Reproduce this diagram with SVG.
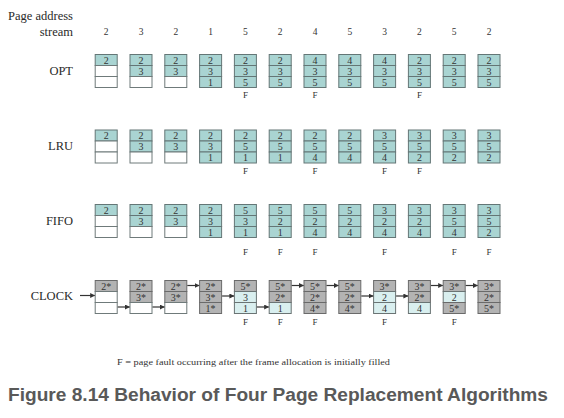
<svg xmlns="http://www.w3.org/2000/svg" width="564" height="418" viewBox="0 0 564 418">
<defs>
<style>
.bg{fill:#ffffff}
.lbl{font-family:"Liberation Serif",serif;font-size:12.5px;fill:#2a2a2a}
.num{font-family:"Liberation Serif",serif;font-size:9.5px;fill:#333;text-anchor:middle}
.d{font-family:"Liberation Serif",serif;font-size:10px;fill:#333;text-anchor:middle}
.f{font-family:"Liberation Serif",serif;font-size:9px;fill:#333;text-anchor:middle}
.t{fill:#a9d4d2;stroke:#647676;stroke-width:1}
.w{fill:#ffffff;stroke:#6f7a7a;stroke-width:1}
.g{fill:#b3b3b3;stroke:#6a6a6a;stroke-width:1}
.l{fill:#d9efef;stroke:#6a7474;stroke-width:1}
.arr{stroke:#333;stroke-width:1.2;fill:none;marker-end:url(#ah)}
.note{font-family:"Liberation Serif",serif;font-size:9px;fill:#333}
.title{font-family:"Liberation Sans",Arial,sans-serif;font-size:18px;font-weight:bold;fill:#595959}
</style>
<marker id="ah" viewBox="0 0 10 10" refX="9" refY="5" markerWidth="5" markerHeight="5" markerUnits="userSpaceOnUse" orient="auto"><path d="M0,0 L10,5 L0,10 z" fill="#333"/></marker>
</defs>
<rect class="bg" x="0" y="0" width="564" height="418"/>

<g id="header">
<text class="lbl" x="73" y="20" text-anchor="end">Page address</text>
<text class="lbl" x="73" y="36" text-anchor="end">stream</text>
<text class="num" x="106.2" y="35">2</text>
<text class="num" x="141" y="35">3</text>
<text class="num" x="175.8" y="35">2</text>
<text class="num" x="210.6" y="35">1</text>
<text class="num" x="245.4" y="35">5</text>
<text class="num" x="280.2" y="35">2</text>
<text class="num" x="315" y="35">4</text>
<text class="num" x="349.8" y="35">5</text>
<text class="num" x="384.6" y="35">3</text>
<text class="num" x="419.4" y="35">2</text>
<text class="num" x="454.2" y="35">5</text>
<text class="num" x="489" y="35">2</text>
</g>

<g id="labels">
<text class="lbl" x="73" y="75" text-anchor="end">OPT</text>
<text class="lbl" x="73" y="149.5" text-anchor="end">LRU</text>
<text class="lbl" x="73" y="224.5" text-anchor="end">FIFO</text>
<text class="lbl" x="73" y="299.5" text-anchor="end">CLOCK</text>
</g>

<!-- OPT row -->
<g id="opt-0" transform="translate(95.2,54.5)"><rect class="t" x="0" y="0" width="22" height="11"/><rect class="w" x="0" y="11" width="22" height="11"/><rect class="w" x="0" y="22" width="22" height="11"/><text class="d" x="11" y="9">2</text></g>
<g id="opt-1" transform="translate(130,54.5)"><rect class="t" x="0" y="0" width="22" height="11"/><rect class="t" x="0" y="11" width="22" height="11"/><rect class="w" x="0" y="22" width="22" height="11"/><text class="d" x="11" y="9">2</text><text class="d" x="11" y="20">3</text></g>
<g id="opt-2" transform="translate(164.8,54.5)"><rect class="t" x="0" y="0" width="22" height="11"/><rect class="t" x="0" y="11" width="22" height="11"/><rect class="w" x="0" y="22" width="22" height="11"/><text class="d" x="11" y="9">2</text><text class="d" x="11" y="20">3</text></g>
<g id="opt-3" transform="translate(199.6,54.5)"><rect class="t" x="0" y="0" width="22" height="11"/><rect class="t" x="0" y="11" width="22" height="11"/><rect class="t" x="0" y="22" width="22" height="11"/><text class="d" x="11" y="9">2</text><text class="d" x="11" y="20">3</text><text class="d" x="11" y="31">1</text></g>
<g id="opt-4" transform="translate(234.4,54.5)"><rect class="t" x="0" y="0" width="22" height="11"/><rect class="t" x="0" y="11" width="22" height="11"/><rect class="t" x="0" y="22" width="22" height="11"/><text class="d" x="11" y="9">2</text><text class="d" x="11" y="20">3</text><text class="d" x="11" y="31">5</text><text class="f" x="11" y="43">F</text></g>
<g id="opt-5" transform="translate(269.2,54.5)"><rect class="t" x="0" y="0" width="22" height="11"/><rect class="t" x="0" y="11" width="22" height="11"/><rect class="t" x="0" y="22" width="22" height="11"/><text class="d" x="11" y="9">2</text><text class="d" x="11" y="20">3</text><text class="d" x="11" y="31">5</text></g>
<g id="opt-6" transform="translate(304,54.5)"><rect class="t" x="0" y="0" width="22" height="11"/><rect class="t" x="0" y="11" width="22" height="11"/><rect class="t" x="0" y="22" width="22" height="11"/><text class="d" x="11" y="9">4</text><text class="d" x="11" y="20">3</text><text class="d" x="11" y="31">5</text><text class="f" x="11" y="43">F</text></g>
<g id="opt-7" transform="translate(338.8,54.5)"><rect class="t" x="0" y="0" width="22" height="11"/><rect class="t" x="0" y="11" width="22" height="11"/><rect class="t" x="0" y="22" width="22" height="11"/><text class="d" x="11" y="9">4</text><text class="d" x="11" y="20">3</text><text class="d" x="11" y="31">5</text></g>
<g id="opt-8" transform="translate(373.6,54.5)"><rect class="t" x="0" y="0" width="22" height="11"/><rect class="t" x="0" y="11" width="22" height="11"/><rect class="t" x="0" y="22" width="22" height="11"/><text class="d" x="11" y="9">4</text><text class="d" x="11" y="20">3</text><text class="d" x="11" y="31">5</text></g>
<g id="opt-9" transform="translate(408.4,54.5)"><rect class="t" x="0" y="0" width="22" height="11"/><rect class="t" x="0" y="11" width="22" height="11"/><rect class="t" x="0" y="22" width="22" height="11"/><text class="d" x="11" y="9">2</text><text class="d" x="11" y="20">3</text><text class="d" x="11" y="31">5</text><text class="f" x="11" y="43">F</text></g>
<g id="opt-10" transform="translate(443.2,54.5)"><rect class="t" x="0" y="0" width="22" height="11"/><rect class="t" x="0" y="11" width="22" height="11"/><rect class="t" x="0" y="22" width="22" height="11"/><text class="d" x="11" y="9">2</text><text class="d" x="11" y="20">3</text><text class="d" x="11" y="31">5</text></g>
<g id="opt-11" transform="translate(478,54.5)"><rect class="t" x="0" y="0" width="22" height="11"/><rect class="t" x="0" y="11" width="22" height="11"/><rect class="t" x="0" y="22" width="22" height="11"/><text class="d" x="11" y="9">2</text><text class="d" x="11" y="20">3</text><text class="d" x="11" y="31">5</text></g>

<!-- LRU row -->
<g id="lru-0" transform="translate(95.2,130)"><rect class="t" x="0" y="0" width="22" height="11"/><rect class="w" x="0" y="11" width="22" height="11"/><rect class="w" x="0" y="22" width="22" height="11"/><text class="d" x="11" y="9">2</text></g>
<g id="lru-1" transform="translate(130,130)"><rect class="t" x="0" y="0" width="22" height="11"/><rect class="t" x="0" y="11" width="22" height="11"/><rect class="w" x="0" y="22" width="22" height="11"/><text class="d" x="11" y="9">2</text><text class="d" x="11" y="20">3</text></g>
<g id="lru-2" transform="translate(164.8,130)"><rect class="t" x="0" y="0" width="22" height="11"/><rect class="t" x="0" y="11" width="22" height="11"/><rect class="w" x="0" y="22" width="22" height="11"/><text class="d" x="11" y="9">2</text><text class="d" x="11" y="20">3</text></g>
<g id="lru-3" transform="translate(199.6,130)"><rect class="t" x="0" y="0" width="22" height="11"/><rect class="t" x="0" y="11" width="22" height="11"/><rect class="t" x="0" y="22" width="22" height="11"/><text class="d" x="11" y="9">2</text><text class="d" x="11" y="20">3</text><text class="d" x="11" y="31">1</text></g>
<g id="lru-4" transform="translate(234.4,130)"><rect class="t" x="0" y="0" width="22" height="11"/><rect class="t" x="0" y="11" width="22" height="11"/><rect class="t" x="0" y="22" width="22" height="11"/><text class="d" x="11" y="9">2</text><text class="d" x="11" y="20">5</text><text class="d" x="11" y="31">1</text><text class="f" x="11" y="44">F</text></g>
<g id="lru-5" transform="translate(269.2,130)"><rect class="t" x="0" y="0" width="22" height="11"/><rect class="t" x="0" y="11" width="22" height="11"/><rect class="t" x="0" y="22" width="22" height="11"/><text class="d" x="11" y="9">2</text><text class="d" x="11" y="20">5</text><text class="d" x="11" y="31">1</text></g>
<g id="lru-6" transform="translate(304,130)"><rect class="t" x="0" y="0" width="22" height="11"/><rect class="t" x="0" y="11" width="22" height="11"/><rect class="t" x="0" y="22" width="22" height="11"/><text class="d" x="11" y="9">2</text><text class="d" x="11" y="20">5</text><text class="d" x="11" y="31">4</text><text class="f" x="11" y="44">F</text></g>
<g id="lru-7" transform="translate(338.8,130)"><rect class="t" x="0" y="0" width="22" height="11"/><rect class="t" x="0" y="11" width="22" height="11"/><rect class="t" x="0" y="22" width="22" height="11"/><text class="d" x="11" y="9">2</text><text class="d" x="11" y="20">5</text><text class="d" x="11" y="31">4</text></g>
<g id="lru-8" transform="translate(373.6,130)"><rect class="t" x="0" y="0" width="22" height="11"/><rect class="t" x="0" y="11" width="22" height="11"/><rect class="t" x="0" y="22" width="22" height="11"/><text class="d" x="11" y="9">3</text><text class="d" x="11" y="20">5</text><text class="d" x="11" y="31">4</text><text class="f" x="11" y="44">F</text></g>
<g id="lru-9" transform="translate(408.4,130)"><rect class="t" x="0" y="0" width="22" height="11"/><rect class="t" x="0" y="11" width="22" height="11"/><rect class="t" x="0" y="22" width="22" height="11"/><text class="d" x="11" y="9">3</text><text class="d" x="11" y="20">5</text><text class="d" x="11" y="31">2</text><text class="f" x="11" y="44">F</text></g>
<g id="lru-10" transform="translate(443.2,130)"><rect class="t" x="0" y="0" width="22" height="11"/><rect class="t" x="0" y="11" width="22" height="11"/><rect class="t" x="0" y="22" width="22" height="11"/><text class="d" x="11" y="9">3</text><text class="d" x="11" y="20">5</text><text class="d" x="11" y="31">2</text></g>
<g id="lru-11" transform="translate(478,130)"><rect class="t" x="0" y="0" width="22" height="11"/><rect class="t" x="0" y="11" width="22" height="11"/><rect class="t" x="0" y="22" width="22" height="11"/><text class="d" x="11" y="9">3</text><text class="d" x="11" y="20">5</text><text class="d" x="11" y="31">2</text></g>

<!-- FIFO row -->
<g id="fifo-0" transform="translate(95.2,204.5)"><rect class="t" x="0" y="0" width="22" height="11"/><rect class="w" x="0" y="11" width="22" height="11"/><rect class="w" x="0" y="22" width="22" height="11"/><text class="d" x="11" y="9">2</text></g>
<g id="fifo-1" transform="translate(130,204.5)"><rect class="t" x="0" y="0" width="22" height="11"/><rect class="t" x="0" y="11" width="22" height="11"/><rect class="w" x="0" y="22" width="22" height="11"/><text class="d" x="11" y="9">2</text><text class="d" x="11" y="20">3</text></g>
<g id="fifo-2" transform="translate(164.8,204.5)"><rect class="t" x="0" y="0" width="22" height="11"/><rect class="t" x="0" y="11" width="22" height="11"/><rect class="w" x="0" y="22" width="22" height="11"/><text class="d" x="11" y="9">2</text><text class="d" x="11" y="20">3</text></g>
<g id="fifo-3" transform="translate(199.6,204.5)"><rect class="t" x="0" y="0" width="22" height="11"/><rect class="t" x="0" y="11" width="22" height="11"/><rect class="t" x="0" y="22" width="22" height="11"/><text class="d" x="11" y="9">2</text><text class="d" x="11" y="20">3</text><text class="d" x="11" y="31">1</text></g>
<g id="fifo-4" transform="translate(234.4,204.5)"><rect class="t" x="0" y="0" width="22" height="11"/><rect class="t" x="0" y="11" width="22" height="11"/><rect class="t" x="0" y="22" width="22" height="11"/><text class="d" x="11" y="9">5</text><text class="d" x="11" y="20">3</text><text class="d" x="11" y="31">1</text><text class="f" x="11" y="50">F</text></g>
<g id="fifo-5" transform="translate(269.2,204.5)"><rect class="t" x="0" y="0" width="22" height="11"/><rect class="t" x="0" y="11" width="22" height="11"/><rect class="t" x="0" y="22" width="22" height="11"/><text class="d" x="11" y="9">5</text><text class="d" x="11" y="20">2</text><text class="d" x="11" y="31">1</text><text class="f" x="11" y="50">F</text></g>
<g id="fifo-6" transform="translate(304,204.5)"><rect class="t" x="0" y="0" width="22" height="11"/><rect class="t" x="0" y="11" width="22" height="11"/><rect class="t" x="0" y="22" width="22" height="11"/><text class="d" x="11" y="9">5</text><text class="d" x="11" y="20">2</text><text class="d" x="11" y="31">4</text><text class="f" x="11" y="50">F</text></g>
<g id="fifo-7" transform="translate(338.8,204.5)"><rect class="t" x="0" y="0" width="22" height="11"/><rect class="t" x="0" y="11" width="22" height="11"/><rect class="t" x="0" y="22" width="22" height="11"/><text class="d" x="11" y="9">5</text><text class="d" x="11" y="20">2</text><text class="d" x="11" y="31">4</text></g>
<g id="fifo-8" transform="translate(373.6,204.5)"><rect class="t" x="0" y="0" width="22" height="11"/><rect class="t" x="0" y="11" width="22" height="11"/><rect class="t" x="0" y="22" width="22" height="11"/><text class="d" x="11" y="9">3</text><text class="d" x="11" y="20">2</text><text class="d" x="11" y="31">4</text><text class="f" x="11" y="50">F</text></g>
<g id="fifo-9" transform="translate(408.4,204.5)"><rect class="t" x="0" y="0" width="22" height="11"/><rect class="t" x="0" y="11" width="22" height="11"/><rect class="t" x="0" y="22" width="22" height="11"/><text class="d" x="11" y="9">3</text><text class="d" x="11" y="20">2</text><text class="d" x="11" y="31">4</text></g>
<g id="fifo-10" transform="translate(443.2,204.5)"><rect class="t" x="0" y="0" width="22" height="11"/><rect class="t" x="0" y="11" width="22" height="11"/><rect class="t" x="0" y="22" width="22" height="11"/><text class="d" x="11" y="9">3</text><text class="d" x="11" y="20">5</text><text class="d" x="11" y="31">4</text><text class="f" x="11" y="50">F</text></g>
<g id="fifo-11" transform="translate(478,204.5)"><rect class="t" x="0" y="0" width="22" height="11"/><rect class="t" x="0" y="11" width="22" height="11"/><rect class="t" x="0" y="22" width="22" height="11"/><text class="d" x="11" y="9">3</text><text class="d" x="11" y="20">5</text><text class="d" x="11" y="31">2</text><text class="f" x="11" y="50">F</text></g>

<!-- CLOCK row -->
<g id="clock-0" transform="translate(95.2,280.5)"><rect class="g" x="0" y="0" width="22" height="11"/><rect class="w" x="0" y="11" width="22" height="11"/><rect class="w" x="0" y="22" width="22" height="11"/><text class="d" x="11" y="9">2*</text></g>
<g id="clock-1" transform="translate(130,280.5)"><rect class="g" x="0" y="0" width="22" height="11"/><rect class="g" x="0" y="11" width="22" height="11"/><rect class="w" x="0" y="22" width="22" height="11"/><text class="d" x="11" y="9">2*</text><text class="d" x="11" y="20">3*</text></g>
<g id="clock-2" transform="translate(164.8,280.5)"><rect class="g" x="0" y="0" width="22" height="11"/><rect class="g" x="0" y="11" width="22" height="11"/><rect class="w" x="0" y="22" width="22" height="11"/><text class="d" x="11" y="9">2*</text><text class="d" x="11" y="20">3*</text></g>
<g id="clock-3" transform="translate(199.6,280.5)"><rect class="g" x="0" y="0" width="22" height="11"/><rect class="g" x="0" y="11" width="22" height="11"/><rect class="g" x="0" y="22" width="22" height="11"/><text class="d" x="11" y="9">2*</text><text class="d" x="11" y="20">3*</text><text class="d" x="11" y="31">1*</text></g>
<g id="clock-4" transform="translate(234.4,280.5)"><rect class="g" x="0" y="0" width="22" height="11"/><rect class="l" x="0" y="11" width="22" height="11"/><rect class="l" x="0" y="22" width="22" height="11"/><text class="d" x="11" y="9">5*</text><text class="d" x="11" y="20">3</text><text class="d" x="11" y="31">1</text><text class="f" x="11" y="44.5">F</text></g>
<g id="clock-5" transform="translate(269.2,280.5)"><rect class="g" x="0" y="0" width="22" height="11"/><rect class="g" x="0" y="11" width="22" height="11"/><rect class="l" x="0" y="22" width="22" height="11"/><text class="d" x="11" y="9">5*</text><text class="d" x="11" y="20">2*</text><text class="d" x="11" y="31">1</text><text class="f" x="11" y="44.5">F</text></g>
<g id="clock-6" transform="translate(304,280.5)"><rect class="g" x="0" y="0" width="22" height="11"/><rect class="g" x="0" y="11" width="22" height="11"/><rect class="g" x="0" y="22" width="22" height="11"/><text class="d" x="11" y="9">5*</text><text class="d" x="11" y="20">2*</text><text class="d" x="11" y="31">4*</text><text class="f" x="11" y="44.5">F</text></g>
<g id="clock-7" transform="translate(338.8,280.5)"><rect class="g" x="0" y="0" width="22" height="11"/><rect class="g" x="0" y="11" width="22" height="11"/><rect class="g" x="0" y="22" width="22" height="11"/><text class="d" x="11" y="9">5*</text><text class="d" x="11" y="20">2*</text><text class="d" x="11" y="31">4*</text></g>
<g id="clock-8" transform="translate(373.6,280.5)"><rect class="g" x="0" y="0" width="22" height="11"/><rect class="l" x="0" y="11" width="22" height="11"/><rect class="l" x="0" y="22" width="22" height="11"/><text class="d" x="11" y="9">3*</text><text class="d" x="11" y="20">2</text><text class="d" x="11" y="31">4</text><text class="f" x="11" y="44.5">F</text></g>
<g id="clock-9" transform="translate(408.4,280.5)"><rect class="g" x="0" y="0" width="22" height="11"/><rect class="g" x="0" y="11" width="22" height="11"/><rect class="l" x="0" y="22" width="22" height="11"/><text class="d" x="11" y="9">3*</text><text class="d" x="11" y="20">2*</text><text class="d" x="11" y="31">4</text></g>
<g id="clock-10" transform="translate(443.2,280.5)"><rect class="g" x="0" y="0" width="22" height="11"/><rect class="l" x="0" y="11" width="22" height="11"/><rect class="g" x="0" y="22" width="22" height="11"/><text class="d" x="11" y="9">3*</text><text class="d" x="11" y="20">2</text><text class="d" x="11" y="31">5*</text><text class="f" x="11" y="44.5">F</text></g>
<g id="clock-11" transform="translate(478,280.5)"><rect class="g" x="0" y="0" width="22" height="11"/><rect class="g" x="0" y="11" width="22" height="11"/><rect class="g" x="0" y="22" width="22" height="11"/><text class="d" x="11" y="9">3*</text><text class="d" x="11" y="20">2*</text><text class="d" x="11" y="31">5*</text></g>

<g id="connectors">
<line class="arr" x1="80" y1="295.5" x2="94.7" y2="295.5"/>
<line class="arr" x1="117.7" y1="307" x2="129.5" y2="307"/>
<line class="arr" x1="152.5" y1="307" x2="164.3" y2="307"/>
<line class="arr" x1="187.3" y1="285.5" x2="199.1" y2="285.5"/>
<line class="arr" x1="222.1" y1="296" x2="233.9" y2="296"/>
<line class="arr" x1="256.9" y1="307" x2="268.7" y2="307"/>
<line class="arr" x1="291.7" y1="285.5" x2="303.5" y2="285.5"/>
<line class="arr" x1="326.5" y1="285.5" x2="338.3" y2="285.5"/>
<line class="arr" x1="361.3" y1="296" x2="373.1" y2="296"/>
<line class="arr" x1="396.1" y1="296" x2="407.9" y2="296"/>
<line class="arr" x1="430.9" y1="285.5" x2="442.7" y2="285.5"/>
<line class="arr" x1="465.7" y1="285.5" x2="477.5" y2="285.5"/>
</g>

<text class="note" x="117" y="364.5" textLength="273" lengthAdjust="spacingAndGlyphs">F = page fault occurring after the frame allocation is initially filled</text>
<text class="title" x="8" y="401" textLength="540" lengthAdjust="spacingAndGlyphs">Figure 8.14 Behavior of Four Page Replacement Algorithms</text>
</svg>
